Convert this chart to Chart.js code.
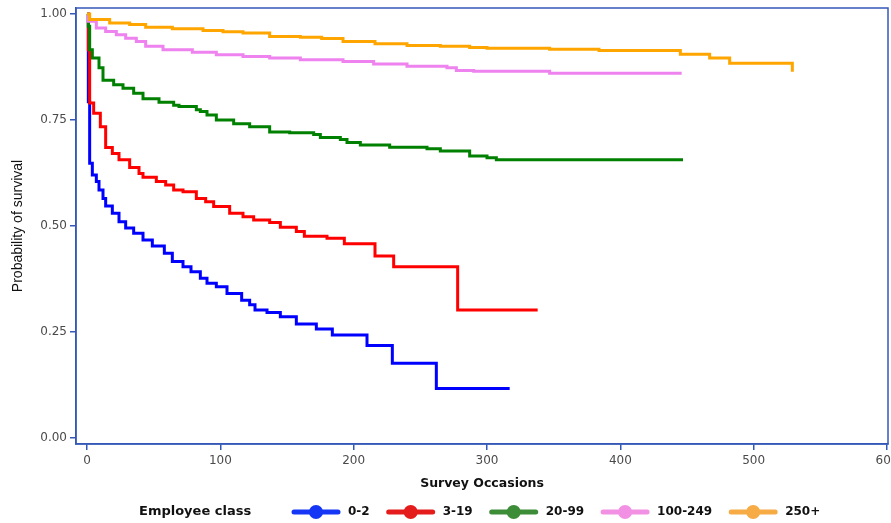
<!DOCTYPE html>
<html>
<head>
<meta charset="utf-8">
<script src="https://cdn.jsdelivr.net/npm/chart.js@4.4.1/dist/chart.umd.min.js"></script>
<style>
  html, body { margin: 0; padding: 0; background: #fff; }
</style>
</head>
<body>
<canvas id="survivalChart" width="891" height="523"></canvas>
<script>
// Kaplan-Meier survival by employee class (time = survey occasion)
const classLabels = ['0-2', '3-19', '20-99', '100-249', '250+'];

const times02 = [0, 1, 2, 4, 7, 9, 12, 14, 19, 24, 29, 35, 42, 49, 58, 64, 72, 78, 85, 90, 97, 105, 116, 122, 126, 135, 145, 157, 172, 184, 210, 229, 262, 317];
const surv02  = [1, 0.793, 0.648, 0.62, 0.605, 0.585, 0.565, 0.547, 0.53, 0.51, 0.495, 0.483, 0.467, 0.453, 0.436, 0.416, 0.404, 0.392, 0.377, 0.365, 0.357, 0.341, 0.325, 0.314, 0.302, 0.296, 0.286, 0.269, 0.257, 0.243, 0.218, 0.176, 0.117, 0.117];

const times319 = [0, 1, 2, 5, 10, 14, 19, 24, 32, 39, 42, 52, 59, 65, 72, 82, 89, 95, 107, 117, 125, 137, 145, 157, 163, 180, 193, 216, 230, 278, 338];
const surv319  = [1, 0.915, 0.79, 0.766, 0.734, 0.685, 0.671, 0.656, 0.638, 0.624, 0.615, 0.605, 0.597, 0.585, 0.581, 0.565, 0.557, 0.546, 0.53, 0.522, 0.514, 0.508, 0.497, 0.487, 0.476, 0.471, 0.458, 0.429, 0.404, 0.302, 0.302];

const times2099 = [0, 1, 2, 4, 9, 12, 20, 27, 35, 42, 54, 65, 69, 82, 85, 90, 97, 110, 122, 137, 152, 170, 175, 190, 195, 205, 227, 255, 265, 287, 300, 307, 447];
const surv2099  = [1, 0.971, 0.916, 0.896, 0.873, 0.844, 0.833, 0.825, 0.813, 0.8, 0.792, 0.785, 0.782, 0.774, 0.77, 0.762, 0.75, 0.741, 0.734, 0.722, 0.72, 0.716, 0.709, 0.704, 0.697, 0.691, 0.686, 0.682, 0.677, 0.665, 0.661, 0.656, 0.656];

const times100249 = [0, 1, 7, 14, 22, 29, 37, 44, 57, 79, 97, 117, 137, 160, 192, 215, 240, 270, 277, 290, 347, 446];
const surv100249  = [1, 0.983, 0.967, 0.959, 0.951, 0.943, 0.935, 0.924, 0.916, 0.91, 0.904, 0.9, 0.896, 0.892, 0.888, 0.882, 0.877, 0.873, 0.867, 0.865, 0.86, 0.86];

const times250 = [0, 2, 17, 32, 44, 64, 87, 102, 117, 137, 160, 176, 192, 216, 240, 265, 287, 300, 347, 384, 445, 467, 482, 529];
const surv250  = [1, 0.987, 0.979, 0.975, 0.969, 0.965, 0.961, 0.958, 0.955, 0.947, 0.945, 0.942, 0.935, 0.93, 0.926, 0.924, 0.921, 0.919, 0.917, 0.914, 0.905, 0.896, 0.884, 0.864];

const xTicks = [0, 100, 200, 300, 400, 500, 600];
const yTicks = [0, 0.25, 0.5, 0.75, 1];

const lineColors = ['#0000ff', '#ff0000', '#008000', '#ee82ee', '#ffa500'];
const legendColors = ['#1537f5', '#e41c1c', '#3c8c38', '#f291e3', '#f6ab45'];
const axisBlue = '#3558b8';

const allTimes = [times02, times319, times2099, times100249, times250];
const allSurv = [surv02, surv319, surv2099, surv100249, surv250];

const tickFont = { family: 'DejaVu Sans', size: 12 };

// plot frame on all four sides + legend with a title on the left
const frameAndLegend = {
    id: 'frameAndLegend',
    beforeDatasetsDraw(chart) {
        const { ctx, chartArea: a } = chart;
        ctx.save();
        ctx.strokeStyle = axisBlue;
        ctx.lineWidth = 1.5;
        ctx.strokeRect(a.left, a.top, a.right - a.left, a.bottom - a.top);
        ctx.restore();
    },
    afterDraw(chart) {
        const ctx = chart.ctx;
        const y = 512;
        ctx.save();
        ctx.textBaseline = 'middle';
        ctx.fillStyle = '#111';
        ctx.font = 'bold 13px "DejaVu Sans"';
        ctx.fillText('Employee class', 139, y);
        ctx.font = 'bold 12px "DejaVu Sans"';
        let x = 292;
        classLabels.forEach((lab, i) => {
            ctx.strokeStyle = legendColors[i];
            ctx.lineWidth = 5;
            ctx.lineCap = 'round';
            ctx.beginPath();
            ctx.moveTo(x + 2, y);
            ctx.lineTo(x + 46, y);
            ctx.stroke();
            ctx.fillStyle = legendColors[i];
            ctx.beginPath();
            ctx.arc(x + 24, y, 7, 0, Math.PI * 2);
            ctx.fill();
            ctx.fillStyle = '#111';
            ctx.fillText(lab, x + 56, y);
            x += 56 + ctx.measureText(lab).width + 17;
        });
        ctx.restore();
    }
};

new Chart(document.getElementById('survivalChart'), {
    type: 'line',
    data: {
        datasets: classLabels.map((lab, i) => ({
            label: lab,
            data: allTimes[i].map((t, k) => ({ x: t, y: allSurv[i][k] })),
            borderColor: lineColors[i],
            backgroundColor: lineColors[i],
            borderWidth: 3,
            stepped: true,
            pointRadius: 0,
            fill: false,
            order: classLabels.length - i
        }))
    },
    options: {
        responsive: false,
        animation: false,
        layout: { padding: { left: 0, right: 3, top: 8, bottom: 29 } },
        plugins: {
            legend: { display: false },
            tooltip: { enabled: false }
        },
        scales: {
            x: {
                type: 'linear',
                min: -8.25,
                max: 600.75,
                afterBuildTicks: s => { s.ticks = xTicks.map(v => ({ value: v })); },
                afterFit: s => { s.height = 50; s.paddingLeft = 0; s.paddingRight = 0; },
                ticks: { font: tickFont, color: '#4a4a4a', padding: 4, maxRotation: 0, autoSkip: false },
                grid: { drawOnChartArea: false, drawTicks: true, tickLength: 6, color: axisBlue, lineWidth: 1.5 },
                border: { display: true, color: axisBlue, width: 1.5 },
                title: {
                    display: true,
                    text: 'Survey Occasions',
                    color: '#111',
                    font: { family: 'DejaVu Sans', size: 12.5, weight: 'bold' },
                    padding: { top: 4, bottom: 2.5 }
                }
            },
            y: {
                type: 'linear',
                min: -0.0142,
                max: 1.0142,
                afterBuildTicks: s => { s.ticks = yTicks.map(v => ({ value: v })); },
                afterFit: s => { s.width = 76; s.paddingTop = 0; s.paddingBottom = 0; },
                ticks: { font: tickFont, color: '#4a4a4a', padding: 3, callback: v => v.toFixed(2) },
                grid: { drawOnChartArea: false, drawTicks: true, tickLength: 6, color: axisBlue, lineWidth: 1.5 },
                border: { display: true, color: axisBlue, width: 1.5 },
                title: {
                    display: true,
                    text: 'Probability of survival',
                    color: '#111',
                    font: { family: 'Liberation Sans', size: 14 },
                    padding: { top: 10, bottom: 0 }
                }
            }
        }
    },
    plugins: [frameAndLegend]
});
</script>
</body>
</html>
